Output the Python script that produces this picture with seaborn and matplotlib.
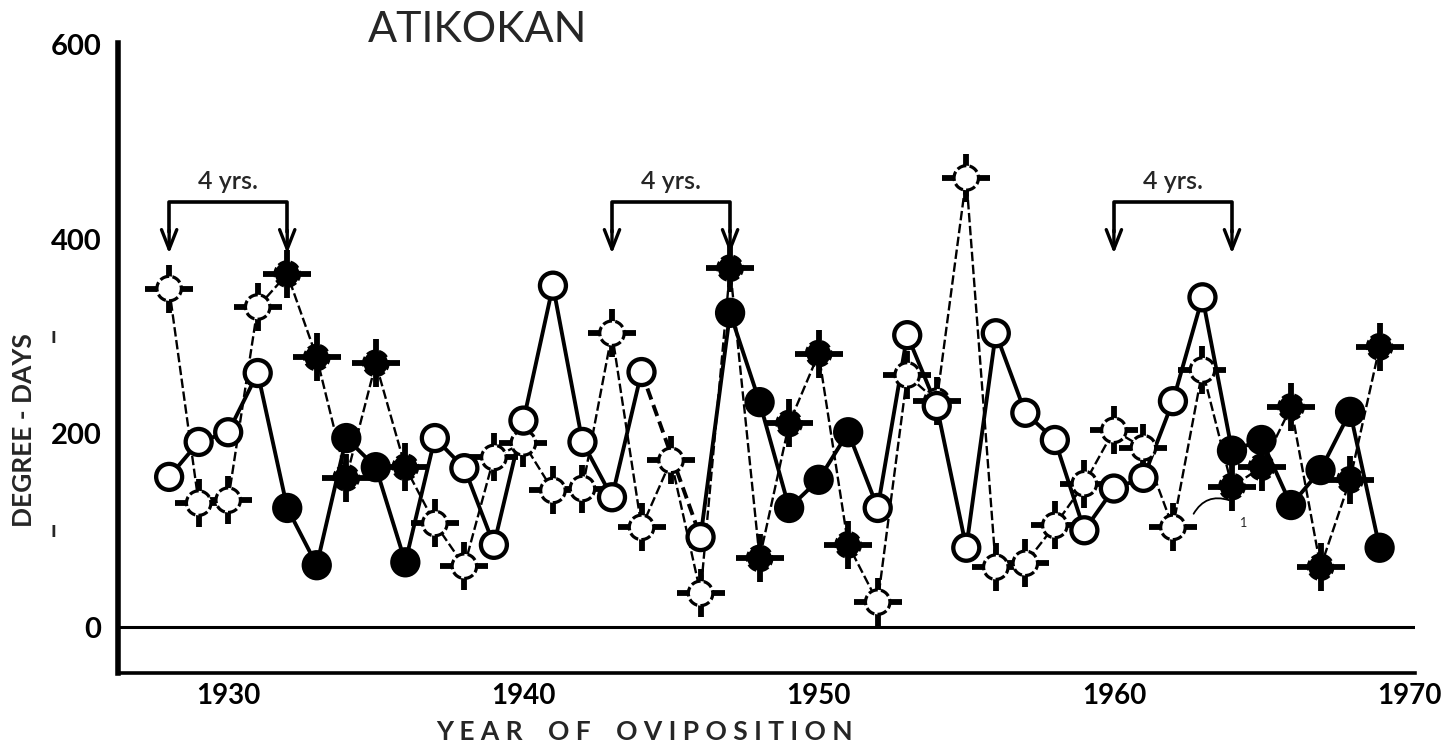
import numpy as np
import pandas as pd
import matplotlib
matplotlib.use("Agg")
import matplotlib.pyplot as plt
import matplotlib.transforms as mtransforms
import seaborn as sns

# ---------------- data ----------------
years = list(range(1928, 1970))
plain_vals = [155, 191, 201, 262, 123, 64, 195, 165, 67, 195,
              164, 85, 213, 352, 191, 134, 263, np.nan, 93, 324,
              232, 123, 152, 201, 123, 301, 228, 82, 303, 221,
              193, 100, 143, 154, 233, 340, 182, 193, 126, 162,
              222, 82]
cross_vals = [349, 128, 131, 330, 364, 278, 154, 272, 165, 107,
              63, 175, 190, 141, 143, 303, 103, 172, 35, 370,
              71, 210, 282, 85, 26, 260, 233, 463, 62, 66,
              105, 148, 203, 185, 103, 265, 145, 165, 227, 62,
              152, 289]
filled_years = [1932, 1933, 1934, 1935, 1936,
                1947, 1948, 1949, 1950, 1951,
                1964, 1965, 1966, 1967, 1968, 1969]
bracket_starts = [1928, 1943, 1960]
bracket_span = 4
bracket_label = "4 yrs."
x_decades = [1930, 1940, 1950, 1960, 1970]
x_minor = list(range(1928, 1971, 2))
y_major = [0, 200, 400, 600]
y_minor = list(range(0, 601, 50))
title = "ATIKOKAN"
xlabel_words = ["YEAR", "OF", "OVIPOSITION"]
ylabel = "DEGREE - DAYS"

# ---------------- style ----------------
sns.set_style("white")
plt.rcParams["font.family"] = ["Lato", "DejaVu Sans"]

fig = plt.figure(figsize=(14.54, 7.5), dpi=100)
ax = fig.add_axes([0.0812, 0.1027, 0.892, 0.84])

df = pd.DataFrame({"year": years, "plain": plain_vals, "cross": cross_vals})
df["fill"] = np.where(df["year"].isin(filled_years), "filled", "open")
df["segment"] = df["plain"].isna().cumsum()
dfp = df.dropna(subset=["plain"])
pal = {"open": "white", "filled": "black"}

# zero line
ax.axhline(0, color="black", lw=2.2, zorder=1)

# cross series line (thin, dashed)
sns.lineplot(data=df, x="year", y="cross", color="black", lw=1.7,
             linestyle=(0, (4, 1.5)), estimator=None, ax=ax, zorder=2)

# plain series line (heavy, solid), broken at missing years
sns.lineplot(data=dfp, x="year", y="plain", units="segment", estimator=None,
             color="black", lw=2.8, ax=ax, zorder=3)
for i in np.where(df["plain"].isna())[0]:
    ax.plot(df["year"].iloc[[i - 1, i + 1]], df["plain"].iloc[[i - 1, i + 1]],
            color="black", lw=2.8, linestyle=(0, (3, 1.5)), zorder=3)

# crosshair arms for the cross series
sns.scatterplot(data=df, x="year", y="cross", marker="+", s=1150,
                color="black", linewidth=4.2, ax=ax, zorder=4, legend=False)
# cross series circles
sns.scatterplot(data=df, x="year", y="cross", hue="fill", palette=pal,
                marker="o", s=310, edgecolor="black", linewidth=2.3,
                linestyle=(0, (3, 1)), ax=ax, zorder=5, legend=False)
# plain series circles
sns.scatterplot(data=dfp, x="year", y="plain", hue="fill", palette=pal,
                marker="o", s=350, edgecolor="black", linewidth=3.1,
                ax=ax, zorder=6, legend=False)

# 4-year brackets
b_top, b_bot, b_tip, b_txt = 438, 407, 385, 459
for s in bracket_starts:
    e = s + bracket_span
    ax.plot([s, s, e, e], [b_bot, b_top, b_top, b_bot], color="black", lw=2.6,
            zorder=3)
    for xx in (s, e):
        ax.annotate("", xy=(xx, b_tip), xytext=(xx, b_bot + 2),
                    arrowprops=dict(arrowstyle="->,head_length=1.4,head_width=0.55",
                                    lw=2.4, color="black", shrinkA=0, shrinkB=0,
                                    mutation_scale=10))
    ax.text((s + e) / 2, b_txt, bracket_label, ha="center", va="center",
            fontsize=18, fontweight="semibold")

# small hand-drawn arc mark near 1963
ax.annotate("", xy=(1963.9, 131), xytext=(1962.7, 117),
            arrowprops=dict(arrowstyle="-", connectionstyle="arc3,rad=-0.4",
                            lw=1.3, color="black", shrinkA=0, shrinkB=0),
            zorder=3)
ax.text(1964.4, 108, "1", fontsize=9, ha="center", va="center")

# axes
ax.set_xlim(1926.27, 1970.2)
ax.set_ylim(-47, 602)
for side in ("top", "right"):
    ax.spines[side].set_visible(False)
ax.spines["left"].set_linewidth(4)
ax.spines["bottom"].set_linewidth(2.6)
ax.spines["left"].set_color("black")
ax.spines["bottom"].set_color("black")

ax.set_xticks(x_decades)
ax.set_xticklabels([str(v) for v in x_decades], fontweight="bold")
ax.set_xticks(x_minor, minor=True)
ax.tick_params(axis="x", which="major", direction="in", length=21, width=2.4,
               labelsize=20, pad=7, colors="black")
ax.tick_params(axis="x", which="minor", direction="in", length=9, width=2.8,
               colors="black")
ax.set_yticks(y_major)
ax.set_yticklabels([str(v) for v in y_major], fontweight="bold")
ax.set_yticks(y_minor, minor=True)
ax.tick_params(axis="y", which="major", direction="in", length=17, width=2.6,
               labelsize=21, pad=12, colors="black")
ax.tick_params(axis="y", which="minor", direction="in", length=10, width=2.6,
               colors="black")

spaced = "    ".join(" ".join(w) for w in xlabel_words)
ax.set_xlabel(spaced, fontsize=19, fontweight="bold", va="center")
ax.xaxis.set_label_coords(0.406, -0.093)
ax.set_ylabel(ylabel, fontsize=19, fontweight="bold", va="center")
ax.yaxis.set_label_coords(-0.0725, 0.386)

blend = mtransforms.blended_transform_factory(ax.transAxes, ax.transData)
for yv in (100, 300):
    ax.text(-0.050, yv, "ı", transform=blend, ha="center", va="center",
            fontsize=16, fontweight="bold")

fig.text(478 / 1454, 1 - 30 / 750, title, ha="center", va="center", fontsize=31)

fig.savefig("out.png", dpi=100, facecolor="white")
